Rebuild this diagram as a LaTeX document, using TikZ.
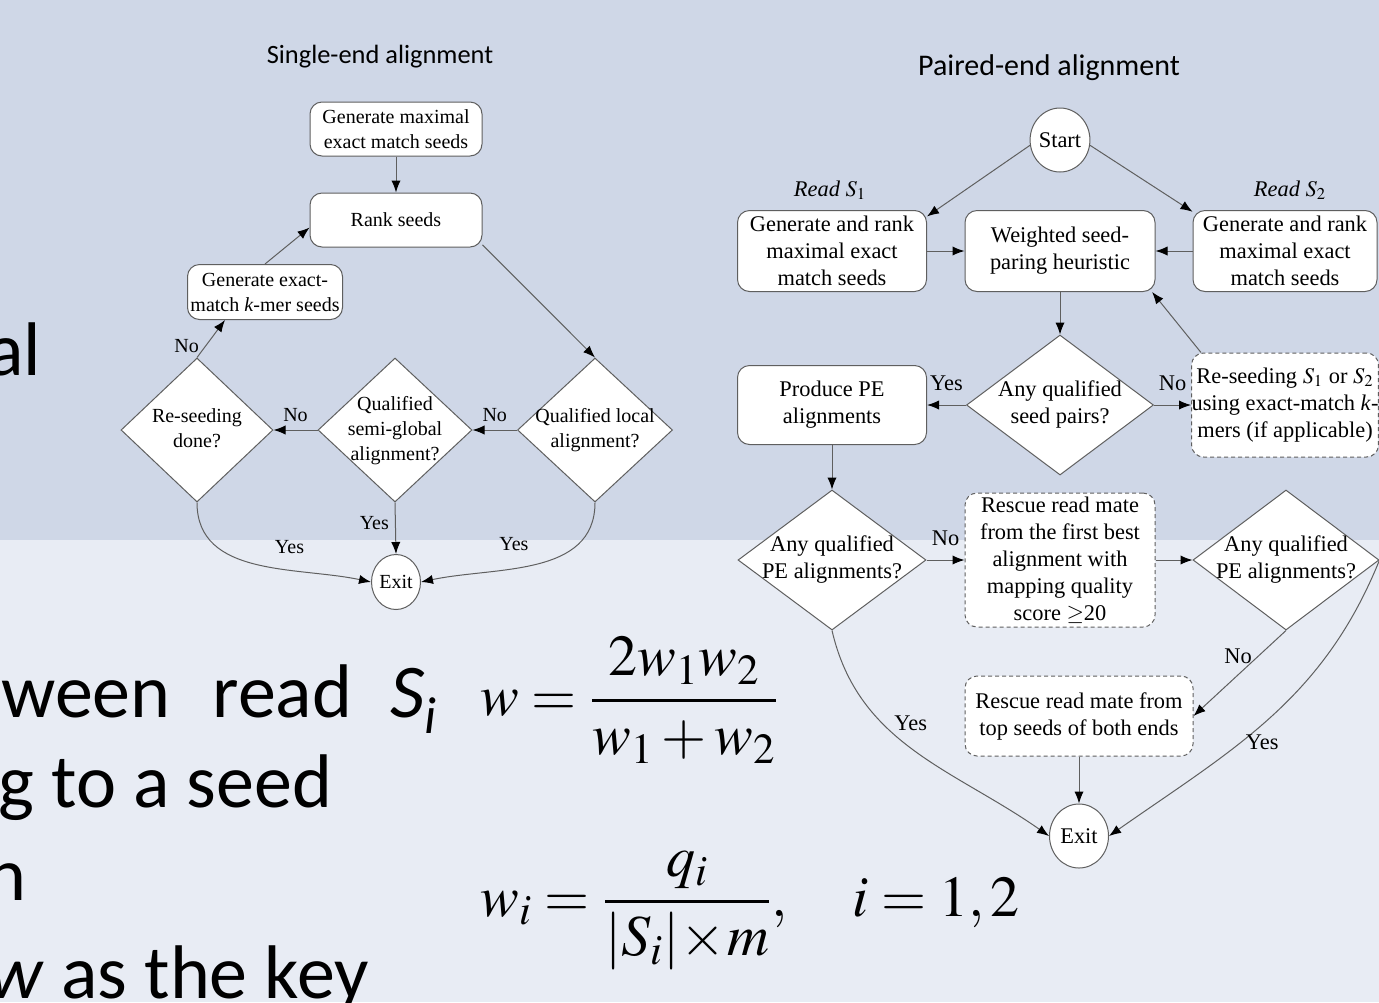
\documentclass[tikz,border=0pt]{standalone}
\usepackage{mathptmx}
\usepackage{fontspec}
\setmainfont{Liberation Serif}
\newfontfamily\slidefont{Carlito}
\usepackage{tikz}
\usetikzlibrary{shapes,arrows.meta,positioning,calc}
\definecolor{slidetop}{RGB}{207,215,231}
\definecolor{slidebot}{RGB}{232,236,244}
\definecolor{flowline}{RGB}{95,95,95}
\newcommand{\dtext}[1]{\makebox[0pt]{\begin{tabular}{@{}c@{}}#1\end{tabular}}}

\begin{document}
\begin{tikzpicture}[x=0.5pt,y=-0.5pt,
						leftfont/.style = {font=\fontsize{10}{12.5}\selectfont},
						rightfont/.style = {font=\fontsize{11.2}{13.5}\selectfont},
						box/.style = {draw=flowline,line width=0.5pt,fill=white,rounded corners=6pt,align=center,inner sep=1pt},
						dashbox/.style = {box,dash pattern=on 2pt off 1.5pt},
						decide/.style = {diamond,draw=flowline,line width=0.5pt,fill=white,inner sep=0pt},
						endcirc/.style = {ellipse,draw=flowline,line width=0.5pt,fill=white,inner sep=0pt},
						link/.style = {draw=flowline,line width=0.5pt,-{Latex[length=6pt,width=4.6pt,color=black]}},
						tag/.style = {inner sep=0pt},
						slide/.style = {font=\slidefont\fontsize{38}{44}\selectfont,inner sep=0pt,anchor=base west},
						formula/.style = {font=\fontsize{29}{34}\selectfont,inner sep=0pt,anchor=base west}]

					\useasboundingbox (0,0) rectangle (1379,1002);
					\clip (0,0) rectangle (1379,1002);
					\fill[slidetop] (0,0) rectangle (1379,540);
					\fill[slidebot] (0,540) rectangle (1379,1002);

					\node[slide] (al) at (-13,375) {al};
					\node[slide] (between) at (1,717) {ween\hspace{0.55em}read\hspace{0.5em}\textit{S}\raisebox{-0.22em}{\fontsize{26}{26}\selectfont\itshape i}};
					\node[slide] (toseed) at (-2,807) {g to a seed};
					\node[slide] (endn) at (-14,900) {n};
					\node[slide] (askey) at (-12,998) {\textit{w} as the key};

					\node[formula] (harm) at (480,715) {$\displaystyle w=\frac{2w_1w_2}{w_1+w_2}$};
					\node[formula] (each) at (480,916) {$\displaystyle w_i=\frac{q_i}{|S_i|\!\times\! m},\quad i=1,2$};

					\node[font=\slidefont\fontsize{13.2}{15}\selectfont] (titlel) at (380,57) {Single-end alignment};
					\node[font=\slidefont\fontsize{15}{17}\selectfont] (titler) at (1049,68) {Paired-end alignment};

					\node[box,leftfont,minimum width=86pt,minimum height=27pt] (genmax) at (396,129) {Generate maximal\\exact match seeds};
					\node[box,leftfont,minimum width=86pt,minimum height=27pt] (rank) at (396,220) {Rank seeds};
					\node[box,leftfont,minimum width=77.5pt,minimum height=27.5pt,inner sep=0pt] (genkmer) at (265,292) {Generate exact-\\match \textit{k}-mer seeds};
					\node[decide,leftfont,minimum width=76pt,minimum height=72pt] (redone) at (197,430) {\dtext{Re-seeding\\done?}};
					\node[decide,leftfont,minimum width=77pt,minimum height=72pt] (semiq) at (395,430) {\dtext{Qualified\\semi-global\\alignment?}};
					\node[decide,leftfont,minimum width=77.5pt,minimum height=72pt] (localq) at (595,430) {\dtext{Qualified local\\alignment?}};
					\node[endcirc,leftfont,minimum width=24.5pt,minimum height=27.5pt] (exitl) at (396,582) {Exit};

					\draw[link] (genmax) -- (rank);
					\draw[link] (rank.-16) -- (localq.north);
					\draw[link] (localq.west) -- node[tag,leftfont,above=4pt]{No} (semiq.east);
					\draw[link] (semiq.west) -- node[tag,leftfont,above=4pt]{No} (redone.east);
					\draw[link] (redone.north) -- node[tag,leftfont,pos=0.3,left=3pt]{No} (genkmer.215);
					\draw[link] (genkmer.north) -- (rank.185);
					\draw[link] (semiq.south) -- node[tag,leftfont,pos=0.4,left=3pt]{Yes} (exitl.north);
					\draw[link] (redone.south) to[out=-90,in=168] node[tag,leftfont,pos=0.65,above=8pt]{Yes} (exitl.west);
					\draw[link] (localq.south) to[out=-90,in=12] node[tag,leftfont,pos=0.6,above=9pt]{Yes} (exitl.east);

					\node[endcirc,rightfont,minimum width=29pt,minimum height=32pt] (start) at (1060,140) {Start};
					\node[rightfont] (nameone) at (830,190) {\textit{Read} $S_1$};
					\node[rightfont] (nametwo) at (1290,190) {\textit{Read} $S_2$};
					\node[box,rightfont,minimum width=94.5pt,minimum height=40.5pt] (readone) at (832,251) {Generate and rank\\maximal exact\\match seeds};
					\node[box,rightfont,minimum width=95pt,minimum height=40.5pt] (weigh) at (1060,251) {Weighted seed-\\paring heuristic};
					\node[box,rightfont,minimum width=92pt,minimum height=40.5pt] (readtwo) at (1285,251) {Generate and rank\\maximal exact\\match seeds};
					\node[decide,rightfont,minimum width=93.5pt,minimum height=70pt] (pairq) at (1060,405) {\dtext{Any qualified\\seed pairs?}};
					\node[box,rightfont,minimum width=94.5pt,minimum height=39.5pt] (produce) at (832,405) {Produce PE\\alignments};
					\node[dashbox,rightfont,minimum width=92pt,minimum height=52pt,inner sep=0pt] (reseed) at (1285,405) {Re-seeding $S_1$ or $S_2$\\using exact-match \textit{k}-\\mers (if applicable)};
					\node[decide,rightfont,minimum width=94pt,minimum height=70pt] (peone) at (832,560) {\dtext{Any qualified\\PE alignments?}};
					\node[dashbox,rightfont,minimum width=95pt,minimum height=67pt] (rescueone) at (1060,560) {Rescue read mate\\from the first best\\alignment with\\mapping quality\\score $\geq$20};
					\node[decide,rightfont,minimum width=93pt,minimum height=70pt] (petwo) at (1286,560) {\dtext{Any qualified\\PE alignments?}};
					\node[dashbox,rightfont,minimum width=114pt,minimum height=40pt] (rescuetwo) at (1079,716) {Rescue read mate from\\top seeds of both ends};
					\node[endcirc,rightfont,minimum width=29.5pt,minimum height=32pt] (exitr) at (1079,836) {Exit};

					\draw[link] (start.190) -- (readone.20);
					\draw[link] (start.350) -- (readtwo.157);
					\draw[link] (readone) -- (weigh);
					\draw[link] (readtwo) -- (weigh);
					\draw[link] (weigh) -- (pairq);
					\draw[link] (pairq.west) -- node[tag,rightfont,above=7pt]{Yes} (produce.east);
					\draw[link] (pairq.east) -- node[tag,rightfont,above=7pt]{No} (reseed.west);
					\draw[link] (reseed.148) -- (weigh.-24);
					\draw[link] (produce) -- (peone);
					\draw[link] (peone.east) -- node[tag,rightfont,above=7pt]{No} (rescueone.west);
					\draw[link] (rescueone.east) -- (petwo.west);
					\draw[link] (petwo.south) -- node[tag,rightfont,pos=0.3,left=3pt]{No} (rescuetwo.east);
					\draw[link] (rescuetwo) -- (exitr);
					\draw[link] (peone.south) to[out=-77,in=145] node[tag,rightfont,pos=0.35,right=6pt]{Yes} (exitr.west);
					\draw[link] (petwo.east) to[out=-112,in=35] node[tag,rightfont,pos=0.6,right=2pt]{Yes} (exitr.east);

				\end{tikzpicture}
\end{document}
